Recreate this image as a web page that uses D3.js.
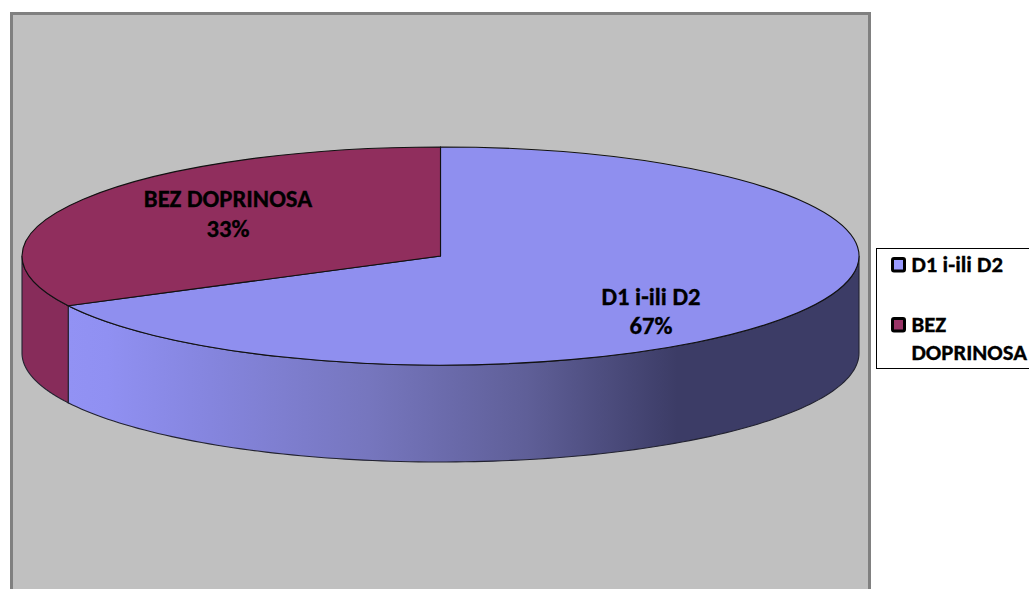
<!DOCTYPE html>
<html><head><meta charset="utf-8">
<script src="https://cdn.jsdelivr.net/npm/d3@7"></script>
<style>html,body{margin:0;padding:0;background:#fff}svg{display:block}
text{font-family:Carlito,Calibri,"Open Sans","Liberation Sans",sans-serif;font-weight:700;fill:#000;stroke:#000;stroke-width:.3px}</style>
</head><body><svg id="c" width="1029" height="589"></svg>
<script>
const categories = ["D1 i-ili D2", "BEZ DOPRINOSA"];
const values = [67.45, 32.55];
const percentLabels = ["67%", "33%"];
const topColors = ["#8f8fef", "#902e5d"];
const W = 1029, H = 589, cx = 440.5, cy = 256, rx = 418.5, ry = 109, depth = 97;
const svg = d3.select("#c");
// frame
svg.append("rect").attr("x",11.5).attr("y",13.5).attr("width",858).attr("height",H+10)
  .attr("fill","#c0c0c0").attr("stroke","#808080").attr("stroke-width",3);
const defs = svg.append("defs");
const grad = defs.append("linearGradient").attr("id","sideBlue").attr("gradientUnits","userSpaceOnUse")
  .attr("x1",68).attr("x2",859).attr("y1",0).attr("y2",0);
[[0,"#9292f4"],[0.05,"#9090f2"],[0.167,"#8686e0"],[0.38,"#7676be"],[0.58,"#5f5f98"],[0.77,"#3c3c66"],[1,"#3c3c66"]]
  .forEach(s=>grad.append("stop").attr("offset",s[0]).attr("stop-color",s[1]));
const pie = d3.pie().sort(null).value(d=>d)(values);
const px = a => cx + rx*Math.sin(a), py = a => cy - ry*Math.cos(a);
const angleScale = d3.scaleLinear().domain([0,1]);
// side walls: visible between pi/2 and 3pi/2
function sidePath(a0,a1){
  const n=120, p=d3.path(), s=angleScale.copy().range([a0,a1]);
  d3.range(n+1).forEach(i=>{const a=s(i/n); i? p.lineTo(px(a),py(a)):p.moveTo(px(a),py(a));});
  d3.range(n,-1,-1).forEach(i=>{const a=s(i/n); p.lineTo(px(a),py(a)+depth);});
  p.closePath(); return p.toString();
}
const sides = [
  {a0:Math.PI/2,a1:pie[0].endAngle,fill:"url(#sideBlue)"},
  {a0:pie[1].startAngle,a1:3*Math.PI/2,fill:"#872c5a"}
];
svg.selectAll("path.side").data(sides).join("path").attr("class","side")
  .attr("d",d=>sidePath(d.a0,d.a1)).attr("fill",d=>d.fill)
  .attr("stroke","#222230").attr("stroke-width",1.1);
// top slices
const arc = d3.arc().innerRadius(0).outerRadius(rx);
svg.append("g").attr("transform",`translate(${cx},${cy}) scale(1,${ry/rx})`)
  .selectAll("path").data(pie).join("path")
  .attr("d",arc).attr("fill",(d,i)=>topColors[i])
  .attr("stroke","#111").attr("stroke-width",1.1).attr("vector-effect","non-scaling-stroke");
// labels
const labelPos=[[651,305,334],[228,207,237]];
labelPos.forEach((l,i)=>{
  const t=svg.append("text").attr("text-anchor","middle").attr("font-size",24.7);
  t.append("tspan").attr("x",l[0]).attr("y",l[1]).text(categories[i]);
  t.append("tspan").attr("x",l[0]).attr("y",l[2]).text(percentLabels[i]);
});
// legend
svg.append("rect").attr("x",876.5).attr("y",248.5).attr("width",160).attr("height",120)
  .attr("fill","#fff").attr("stroke","#000").attr("stroke-width",1);
const legRows=[{y:272,lines:[categories[0]]},{y:332,lines:["BEZ","DOPRINOSA"]}];
legRows.forEach((r,i)=>{
  svg.append("rect").attr("x",892.5).attr("y",r.y-13.5).attr("width",12).attr("height",12.5).attr("rx",1.5)
   .attr("fill",i?"#993366":"#9999ff").attr("stroke","#000").attr("stroke-width",3);
  r.lines.forEach((s,j)=>svg.append("text").attr("x",911.5).attr("y",r.y+j*28).attr("font-size",22.8).text(s));
});
</script></body></html>
